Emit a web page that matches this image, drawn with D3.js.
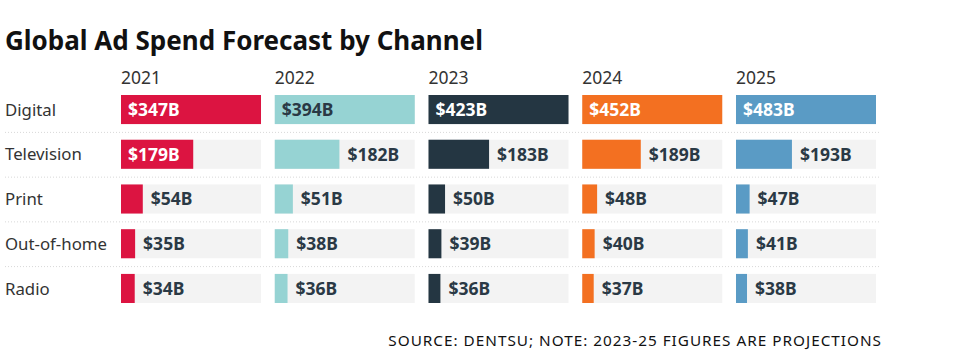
<!DOCTYPE html>
<html>
<head>
<meta charset="utf-8">
<script src="https://cdn.jsdelivr.net/npm/d3@7"></script>
<style>
  html, body { margin: 0; padding: 0; background: #fff; }
  svg { display: block; }
</style>
</head>
<body>
<svg id="chart" width="957" height="354"></svg>
<script>
const years = ["2021", "2022", "2023", "2024", "2025"];
const channels = ["Digital", "Television", "Print", "Out-of-home", "Radio"];
const v2021 = [347, 179, 54, 35, 34];
const v2022 = [394, 182, 51, 38, 36];
const v2023 = [423, 183, 50, 39, 36];
const v2024 = [452, 189, 48, 40, 37];
const v2025 = [483, 193, 47, 41, 38];
const yearColors = ["#dc1441", "#96d3d3", "#243642", "#f37021", "#5a9bc5"];
const insideTextColors = ["#ffffff", "#2a3945", "#ffffff", "#ffffff", "#ffffff"];
const title = "Global Ad Spend Forecast by Channel";
const footer = "SOURCE: DENTSU; NOTE: 2023-25 FIGURES ARE PROJECTIONS";

const series = [v2021, v2022, v2023, v2024, v2025];
const font = "'Noto Sans', 'Open Sans', sans-serif";

const svg = d3.select("#chart");

svg.append("text")
  .attr("x", 5).attr("y", 50)
  .attr("font-family", font).attr("font-weight", 700)
  .attr("font-size", 26).attr("fill", "#111")
  .text(title);

const x = d3.scaleBand().domain(years).range([121, 876]).paddingInner(0.0894).paddingOuter(0);
const y = d3.scaleBand().domain(channels).range([95, 303]).paddingInner(0.35).paddingOuter(0);
const bw = x.bandwidth();
const bh = y.bandwidth();
const step = y.step();

// year labels
svg.selectAll(".yr").data(years).join("text")
  .attr("x", d => x(d)).attr("y", 84)
  .attr("font-family", font).attr("font-size", 17.5).attr("fill", "#333")
  .text(d => d);

// separators
svg.selectAll(".sep").data(channels.slice(0, -1)).join("line")
  .attr("x1", 5).attr("x2", 880)
  .attr("y1", d => y(d) + bh + (step - bh) / 2 + 0.5)
  .attr("y2", d => y(d) + bh + (step - bh) / 2 + 0.5)
  .attr("stroke", "#d8d8d8").attr("stroke-width", 1)
  .attr("stroke-dasharray", "1,2");

// row labels
svg.selectAll(".rl").data(channels).join("text")
  .attr("x", 5).attr("y", d => y(d) + bh / 2)
  .attr("dy", "0.36em")
  .attr("font-family", font).attr("font-size", 16.8).attr("fill", "#333")
  .text(d => d);

years.forEach((yr, i) => {
  const vals = series[i];
  const w = d3.scaleLinear().domain([0, d3.max(vals)]).range([0, bw]);
  const g = svg.append("g");
  const data = channels.map((c, j) => ({ c, v: vals[j] }));
  g.selectAll(".bg").data(data).join("rect")
    .attr("x", x(yr)).attr("y", d => y(d.c))
    .attr("width", bw).attr("height", bh)
    .attr("fill", "#f3f3f3");
  g.selectAll(".bar").data(data).join("rect")
    .attr("x", x(yr)).attr("y", d => y(d.c))
    .attr("width", d => w(d.v)).attr("height", bh)
    .attr("fill", yearColors[i]);
  g.selectAll(".lbl").data(data).join("text")
    .attr("x", d => w(d.v) > 70 ? x(yr) + 7 : x(yr) + w(d.v) + 8)
    .attr("y", d => y(d.c) + bh / 2)
    .attr("dy", "0.36em")
    .attr("font-family", font).attr("font-weight", 700).attr("font-size", 17.5)
    .attr("fill", d => w(d.v) > 70 ? insideTextColors[i] : "#2a3945")
    .text(d => "$" + d.v + "B");
});

svg.append("text")
  .attr("x", 882).attr("y", 346)
  .attr("text-anchor", "end")
  .attr("font-family", font).attr("font-size", 15.3).attr("fill", "#111")
  .attr("letter-spacing", "1px")
  .text(footer);
</script>
</body>
</html>
